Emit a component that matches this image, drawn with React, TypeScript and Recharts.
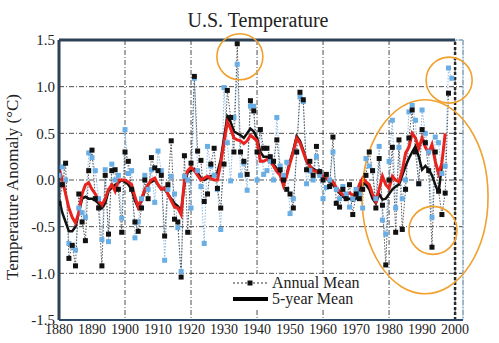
import React from "react"
import {
  LineChart,
  Line,
  XAxis,
  YAxis,
  CartesianGrid,
  ReferenceLine,
  ReferenceDot,
  Legend,
  Customized,
} from "recharts"

// first year of all series, one value per year after it
const firstYear = 1880

// Annual mean (black squares)
const annualBlack = [
  -0.25, -0.05, 0.18, -0.84, -0.7, -0.92, -0.15, -0.45, -0.65, 0.1,
  0.32, -0.2, -0.3, -0.92, 0.05, -0.58, 0.1, 0.11, -0.1, -0.56,
  0.3, 0.2, -0.1, -0.45, -0.55, -0.3, 0.0, -0.2, 0.24, 0.13,
  0.1, 0.05, -0.6, -0.05, 0.42, -0.42, -0.45, -1.04, 0.26, -0.56,
  0.18, 1.11, 0.31, 0.21, -0.23, -0.15, 0.17, 0.34, -0.09, -0.3,
  0.17, 0.96, 0.67, 0.3, 1.46, 0.3, 0.2, 0.06, 0.85, 0.74,
  0.3, 0.54, 0.34, 0.34, 0.25, 0.2, 0.43, 0.11, 0.0, -0.1,
  -0.15, -0.3, 0.3, 0.94, 0.86, 0.11, 0.2, 0.05, 0.36, 0.09,
  0.0, 0.06, -0.07, 0.46, -0.25, -0.29, -0.1, -0.2, -0.05, -0.37,
  -0.15, -0.2, -0.1, 0.05, 0.3, 0.1, -0.3, 0.23, -0.27, -0.91,
  0.0, 0.35, -0.56, 0.43, -0.53, -0.1, 0.45, 0.75, 0.3, -0.04,
  0.54, 0.4, 0.1, -0.72, 0.3, -0.12, -0.37, -0.14, 0.93, null,
]

// Annual mean, newer version (light blue squares)
const annualBlue = [
  0.05, 0.14, 0.0, -0.68, -0.71, -0.75, -0.3, -0.35, -0.4, 0.29,
  0.24, 0.1, -0.2, -0.64, 0.11, -0.66, 0.17, 0.0, 0.05, -0.41,
  0.54, 0.07, 0.1, -0.62, -0.45, -0.2, 0.05, -0.1, 0.11, -0.24,
  0.31, 0.1, -0.86, -0.1, 0.04, -0.15, -0.51, -0.98, 0.04, 0.0,
  -0.3, 1.09, 0.1, -0.07, -0.68, 0.36, 0.15, 0.05, -0.1, -0.53,
  0.99, 0.4, -0.01, 0.67, 1.24, 0.05, 0.18, -0.11, 0.79, 0.79,
  0.0, 0.54, 0.06, 0.1, 0.2, 0.0, 0.67, 0.15, 0.05, 0.19,
  -0.36, -0.2, 0.3, 0.89, 0.84, -0.04, 0.1, 0.0, 0.25, 0.05,
  -0.2, -0.08, 0.0, 0.3, -0.1, -0.2, -0.07, -0.15, -0.29, -0.2,
  -0.1, -0.15, -0.3, 0.23, 0.15, 0.1, -0.2, 0.36, -0.43, -0.58,
  0.2, 0.64, -0.3, 0.35, -0.2, 0.0, 0.73, 0.8, 0.64, -0.04,
  0.75, 0.5, 0.3, -0.4, 0.46, 0.4, 0.07, 0.15, 1.2, 1.09,
]

// 5-year mean (black)
const fiveYearBlack = [
  -0.2, -0.35, -0.45, -0.55, -0.55, -0.5, -0.35, -0.2, -0.18, -0.2,
  -0.2, -0.22, -0.25, -0.3, -0.25, -0.12, -0.08, -0.05, -0.03, 0.0,
  -0.02, -0.05, -0.1, -0.22, -0.3, -0.22, -0.12, -0.05, -0.02, 0.0,
  -0.05, -0.1, -0.1, -0.15, -0.2, -0.25, -0.28, -0.33, -0.05, 0.08,
  0.1, 0.12, 0.08, 0.02, 0.0, 0.02, 0.04, 0.05, 0.08, 0.22,
  0.45, 0.68, 0.62, 0.52, 0.5, 0.48, 0.45, 0.5, 0.55, 0.52,
  0.45, 0.3, 0.25, 0.25, 0.22, 0.17, 0.12, 0.08, -0.03, 0.06,
  0.2, 0.32, 0.47, 0.42, 0.32, 0.2, 0.15, 0.12, 0.1, 0.06,
  0.03, 0.02, -0.02, -0.05, -0.1, -0.14, -0.18, -0.2, -0.2, -0.22,
  -0.2, -0.1, -0.03, -0.05, -0.1, -0.2, -0.25, -0.15, -0.21, -0.2,
  -0.15, -0.1, -0.07, -0.05, 0.05, 0.15, 0.23, 0.3, 0.36, 0.25,
  0.11, 0.15, 0.11, 0.05, -0.05, -0.14, 0.16, 0.14, null, null,
]

// 5-year mean (red)
const fiveYearRed = [
  0.13, 0.0, -0.15, -0.3, -0.4, -0.46, -0.35, -0.15, -0.05, -0.03,
  -0.1, -0.15, -0.22, -0.27, -0.2, -0.1, -0.05, -0.12, 0.0, 0.0,
  0.0, -0.02, -0.05, -0.18, -0.29, -0.2, -0.1, -0.05, 0.0, 0.02,
  -0.05, -0.1, -0.08, -0.15, -0.22, -0.29, -0.3, -0.37, 0.0, 0.1,
  0.14, 0.1, 0.05, 0.0, 0.02, 0.04, 0.02, 0.0, 0.0, 0.18,
  0.4, 0.62, 0.55, 0.45, 0.43, 0.42, 0.39, 0.42, 0.48, 0.45,
  0.42, 0.2, 0.2, 0.22, 0.2, 0.15, 0.09, 0.05, -0.06, 0.05,
  0.18, 0.3, 0.45, 0.4, 0.3, 0.2, 0.15, 0.1, 0.09, 0.05,
  0.04, 0.02, 0.0, -0.02, -0.08, -0.12, -0.16, -0.16, -0.14, -0.16,
  -0.16, -0.05, 0.02, -0.02, -0.05, -0.15, -0.23, -0.1, 0.04, -0.05,
  -0.09, 0.04, 0.0, -0.02, 0.1, 0.29, 0.35, 0.5, 0.45, 0.34,
  0.45, 0.35, 0.29, 0.38, 0.2, 0.07, 0.18, 0.5, null, null,
]

const yearTicks = [1880, 1890, 1900, 1910, 1920, 1930, 1940, 1950, 1960, 1970, 1980, 1990, 2000]
const valueTicks = [-1.5, -1, -0.5, 0, 0.5, 1, 1.5]

// orange annotation rings: [year, anomaly]
const ringSpots = [
  [1934.8, 1.32],
  [1998.2, 1.07],
  [1990.9, -0.18],
  [1993.3, -0.54],
]
const ringSizes = [
  [23, 23],
  [23, 23],
  [63, 97],
  [24, 24],
]

const data = annualBlack.map((v, i) => ({
  year: firstYear + i,
  black: v,
  blue: annualBlue[i],
  b5: fiveYearBlack[i],
  r5: fiveYearRed[i],
}))

const serif = "'Liberation Serif', 'Times New Roman', serif"

const square = (fill: string) => (props: any) => {
  const { cx, cy, index } = props
  if (cy == null || isNaN(cy)) return <g key={index} />
  return <rect key={index} x={cx - 2.5} y={cy - 2.5} width={5} height={5} fill={fill} />
}

const ring = (rx: number, ry: number) => (props: any) => (
  <ellipse cx={props.cx} cy={props.cy} rx={rx} ry={ry} fill="none" stroke="#f0a12e" strokeWidth={1.6} />
)

const LegendBox = () => (
  <svg width={140} height={36} style={{ background: "#fff", display: "block", fontFamily: serif }}>
    <line x1={5} y1={9} x2={40} y2={9} stroke="#333" strokeDasharray="2 2" />
    <rect x={19.5} y={6.5} width={5} height={5} fill="#111" />
    <text x={44} y={14} fontFamily={serif} style={{ fontFamily: serif }} fontSize={16} fill="#222">
      Annual Mean
    </text>
    <line x1={5} y1={25} x2={40} y2={25} stroke="#000" strokeWidth={4} />
    <text x={44} y={30} fontFamily={serif} style={{ fontFamily: serif }} fontSize={16} fill="#222">
      5-year Mean
    </text>
  </svg>
)

export default function App() {
  return (
    <div style={{ position: "absolute", left: 0, top: 0, background: "#fff", fontFamily: serif }}>
      <LineChart width={499} height={343} data={data} margin={{ top: 40, right: 36, bottom: 0, left: 0 }}>
        <CartesianGrid stroke="#3a3a3a" strokeDasharray="5 2 1 2" strokeWidth={0.9} />
        <XAxis
          dataKey="year"
          type="number"
          domain={[1880, 2002.4]}
          ticks={yearTicks}
          allowDataOverflow
          height={23}
          tickLine={false}
          tickSize={3}
          tickMargin={1}
          axisLine={{ stroke: "#2c4a6b", strokeWidth: 2 }}
          tick={{ fontFamily: serif, fontSize: 14, fill: "#222", style: { fontFamily: serif } }}
        />
        <YAxis
          type="number"
          domain={[-1.5, 1.5]}
          ticks={valueTicks}
          width={59}
          tickLine={false}
          tickSize={4}
          tickMargin={0}
          tickFormatter={(v: number) => v.toFixed(1)}
          axisLine={{ stroke: "#2d4157", strokeWidth: 3 }}
          tick={{ fontFamily: serif, fontSize: 15, fill: "#222", style: { fontFamily: serif } }}
        />
        <ReferenceLine
          segment={[{ x: 1880, y: 1.5 }, { x: 2000, y: 1.5 }]}
          stroke="#2d4157"
          strokeWidth={3}
        />
        <ReferenceLine
          segment={[{ x: 2000, y: 1.5 }, { x: 2002.4, y: 1.5 }]}
          stroke="#9cc4e4"
          strokeWidth={1}
        />
        <ReferenceLine x={2002.4} stroke="#9cc4e4" strokeWidth={1} />
        <ReferenceLine x={2000} stroke="#2a2a2a" strokeWidth={2.5} strokeDasharray="3 2" />
        <Line
          dataKey="blue"
          stroke="#8ab9e2"
          strokeWidth={1}
          strokeDasharray="1.5 1.5"
          dot={square("#6aaee6")}
          isAnimationActive={false}
          connectNulls
        />
        <Line
          dataKey="black"
          stroke="#555"
          strokeWidth={1}
          strokeDasharray="1.5 1.5"
          dot={square("#111")}
          isAnimationActive={false}
        />
        <Line dataKey="b5" stroke="#111" strokeWidth={2.5} dot={false} isAnimationActive={false} />
        <Line dataKey="r5" stroke="#e8221c" strokeWidth={3} dot={false} isAnimationActive={false} />
        {ringSpots.map(([x, y], i) => (
          <ReferenceDot
            key={i}
            x={x}
            y={y}
            ifOverflow="visible"
            shape={ring(ringSizes[i][0], ringSizes[i][1])}
          />
        ))}
        <Legend
          layout="vertical"
          align="center"
          verticalAlign="middle"
          content={() => <LegendBox />}
          wrapperStyle={{ left: 228, top: 274, width: "auto" }}
        />
        <Customized
          component={() => (
            <g style={{ fontFamily: serif }}>
              <text x={258} y={27} textAnchor="middle" fontFamily={serif} fontSize={20} fill="#222">
                U.S. Temperature
              </text>
              <text
                x={0}
                y={0}
                transform="translate(18,187) rotate(-90)"
                textAnchor="middle"
                fontFamily={serif}
                fontSize={17}
                fill="#222"
              >
                Temperature Anomaly (°C)
              </text>
            </g>
          )}
        />
      </LineChart>
    </div>
  )
}
